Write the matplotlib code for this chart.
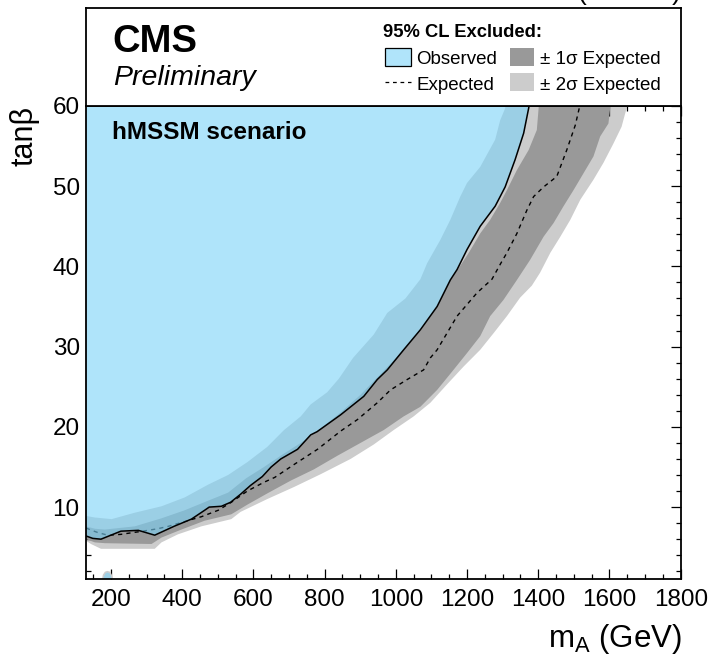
import matplotlib
matplotlib.use("Agg")
import matplotlib.pyplot as plt
from matplotlib.patches import Rectangle
from matplotlib.ticker import MultipleLocator

plt.rcParams['font.family'] = ['Liberation Sans', 'DejaVu Sans']
plt.rcParams['mathtext.fontset'] = 'custom'
plt.rcParams['mathtext.rm'] = 'Liberation Sans'
plt.rcParams['mathtext.it'] = 'Liberation Sans:italic'

# ---------------- data (mA in GeV, tan beta) ----------------
obs_mA = [130, 149, 172, 200, 228, 277, 323, 377, 426, 463, 476, 510, 536, 564, 592, 625,
          650, 677, 724, 761, 779, 845, 910, 948, 976, 1022, 1069, 1116, 1153, 1172, 1200,
          1237, 1279, 1307, 1335, 1359, 1373, 1378]
obs_tb = [6.4, 6.1, 6.0, 6.5, 7.0, 7.1, 6.5, 7.6, 8.5, 9.6, 10.0, 10.1, 10.6, 11.6, 12.7, 13.8,
          15.0, 16.0, 17.2, 19.0, 19.4, 21.5, 23.8, 25.9, 27.1, 29.6, 32.1, 35.0, 38.3, 39.6, 42.1,
          45.0, 47.5, 49.9, 53.3, 56.6, 59.7, 61.0]

exp_mA = [130, 146, 165, 191, 228, 258, 290, 331, 361, 407, 454, 501, 538, 583, 630, 660, 714,
          780, 846, 892, 948, 985, 1032, 1078, 1097, 1116, 1144, 1172, 1228, 1270, 1295, 1312,
          1340, 1368, 1387, 1415, 1452, 1480, 1504, 1515, 1520]
exp_tb = [7.4, 7.1, 6.8, 6.5, 6.6, 6.8, 7.0, 7.3, 7.6, 8.2, 8.8, 9.6, 10.6, 12.0, 13.1, 13.7, 15.3,
          17.2, 19.5, 20.9, 23.0, 24.6, 25.9, 27.1, 28.6, 29.6, 31.7, 33.8, 36.7, 38.4, 40.4, 41.7,
          44.1, 47.0, 48.7, 49.9, 51.2, 54.5, 57.6, 59.7, 61.0]

# -1 sigma (upper/left) and +1 sigma (lower/right) boundaries
s1in_mA = [130, 155, 183, 267, 342, 407, 473, 529, 580, 630, 680, 733, 789, 845, 901, 966, 1022,
           1070, 1116, 1153, 1205, 1237, 1265, 1293, 1312, 1340, 1373, 1396, 1401, 1403]
s1in_tb = [7.6, 7.3, 7.2, 7.6, 8.6, 9.6, 10.8, 11.8, 13.6, 15.0, 16.5, 18.0, 19.8, 21.8, 24.0, 27.0,
           29.6, 32.0, 35.0, 38.2, 41.7, 44.1, 45.8, 47.9, 49.5, 52.0, 54.5, 57.0, 59.7, 61.0]
s1out_mA = [130, 155, 183, 314, 342, 398, 463, 538, 583, 639, 705, 770, 836, 901, 966, 1022, 1069,
            1116, 1162, 1200, 1237, 1265, 1302, 1340, 1377, 1415, 1443, 1471, 1499, 1527, 1555,
            1574, 1597, 1602, 1604]
s1out_tb = [6.0, 5.6, 5.5, 5.4, 6.2, 7.2, 8.3, 9.1, 10.3, 11.7, 13.3, 14.7, 16.4, 18.0, 19.6, 21.3,
            22.5, 24.6, 27.1, 29.2, 31.3, 33.8, 35.8, 38.3, 40.8, 43.7, 45.4, 47.5, 49.5, 51.6,
            53.7, 56.2, 57.8, 59.7, 61.0]

# -2 sigma (upper/left) and +2 sigma (lower/right) boundaries
s2in_mA = [130, 155, 202, 267, 342, 407, 473, 529, 583, 639, 686, 733, 761, 807, 840, 880, 938,
           976, 1027, 1069, 1088, 1125, 1153, 1181, 1200, 1237, 1279, 1293, 1307, 1310]
s2in_tb = [8.9, 8.7, 8.5, 9.3, 10.1, 11.2, 12.8, 14.0, 15.6, 17.5, 19.6, 21.3, 22.8, 24.3, 26.0,
           28.6, 31.5, 34.2, 36.0, 38.4, 40.4, 43.3, 45.8, 48.7, 50.4, 52.4, 55.8, 58.2, 59.7, 61.0]
s2out_mA = [130, 144, 172, 284, 323, 342, 388, 454, 538, 564, 639, 714, 789, 873, 938, 994, 1050,
            1097, 1144, 1190, 1237, 1275, 1312, 1349, 1382, 1405, 1434, 1462, 1490, 1518, 1555,
            1583, 1611, 1634, 1648, 1650]
s2out_tb = [5.8, 5.4, 4.8, 4.8, 4.8, 5.6, 6.6, 7.6, 8.5, 9.4, 11.0, 12.5, 14.1, 16.0, 17.8, 19.6,
            21.3, 23.0, 25.3, 27.5, 29.6, 31.7, 33.8, 36.1, 37.6, 39.2, 41.7, 43.7, 45.8, 48.3,
            50.8, 52.9, 55.3, 57.4, 59.7, 61.0]

# small observed island at low tan beta
isl_mA = [179, 181, 185, 190, 196, 200, 202]
isl_tb = [1.0, 1.4, 1.75, 1.85, 1.75, 1.4, 1.0]
halo_mA = [175, 177, 183, 190, 198, 203, 206]
halo_tb = [1.0, 1.55, 1.95, 2.05, 1.95, 1.55, 1.0]

x_ticks = [200, 400, 600, 800, 1000, 1200, 1400, 1600, 1800]
y_ticks = [10, 20, 30, 40, 50, 60]

# ---------------- figure ----------------
W, H = 713, 658
fig = plt.figure(figsize=(W / 100, H / 100), dpi=100)
L, R, T, B, TOP = 86, 680.7, 105.9, 579.3, 8.3
ax = fig.add_axes([L / W, 1 - B / H, (R - L) / W, (B - T) / H])
lax = fig.add_axes([L / W, 1 - T / H, (R - L) / W, (T - TOP) / H])

LGREY = '#cccccc'
DGREY = '#999999'
BLUE = '#7bd2f7'
BLUE_ALPHA = 0.6


def fill_left(m, t, color, **kw):
    xs = [0] + list(m) + [m[-1], 0]
    ys = [t[0]] + list(t) + [80, 80]
    ax.fill(xs, ys, color=color, lw=0, **kw)


fill_left(s2out_mA, s2out_tb, LGREY, zorder=1)
fill_left(s1out_mA, s1out_tb, DGREY, zorder=2)
fill_left(s1in_mA, s1in_tb, LGREY, zorder=3)
fill_left(s2in_mA, s2in_tb, 'white', zorder=4)
ax.fill(halo_mA, halo_tb, color=LGREY, lw=0, zorder=4.5)

ax.plot(exp_mA, exp_tb, color='black', lw=1.0, ls=(0, (3, 3)), zorder=5)

fill_left(obs_mA, obs_tb, BLUE, alpha=BLUE_ALPHA, zorder=6)
ax.fill(isl_mA, isl_tb, color=BLUE, alpha=BLUE_ALPHA, lw=0, zorder=6)
ax.plot(obs_mA, obs_tb, color='black', lw=1.1, zorder=7)

ax.set_xlim(130, 1800)
ax.set_ylim(1, 60)
ax.set_xticks(x_ticks)
ax.set_xticklabels([str(v) for v in x_ticks])
ax.set_yticks(y_ticks)
ax.set_yticklabels([str(v) for v in y_ticks])
ax.xaxis.set_minor_locator(MultipleLocator(50))
ax.yaxis.set_minor_locator(MultipleLocator(2))
ax.tick_params(which='both', direction='in', top=True, right=True, width=0.9,
               labelsize=17.5, zorder=10)
ax.tick_params(which='major', length=7.5)
ax.tick_params(which='minor', length=3.8)
ax.tick_params(axis='y', pad=4.5)
ax.tick_params(axis='x', pad=7)
for s in ax.spines.values():
    s.set_linewidth(1.3)
    s.set_zorder(11)

# legend / header box
lax.set_xlim(L, R)
lax.set_ylim(T, TOP)
lax.set_xticks([])
lax.set_yticks([])
for s in lax.spines.values():
    s.set_linewidth(1.3)

lax.text(112, 51.7, 'CMS', fontsize=27.5, fontweight='bold', va='baseline', ha='left')
lax.text(113, 85, 'Preliminary', fontsize=20.5, style='italic', va='baseline', ha='left')
lax.text(383, 37, '95% CL Excluded:', fontsize=13.2, fontweight='bold', va='baseline', ha='left')
lax.add_patch(Rectangle((385, 47.7), 25.5, 18.3, facecolor='#b0e4fa', edgecolor='black', lw=0.9))
lax.text(416, 64, 'Observed', fontsize=13.5, va='baseline', ha='left')
lax.add_patch(Rectangle((510, 48), 23.5, 18, facecolor=DGREY, edgecolor='none'))
lax.text(540, 64, '± 1σ Expected', fontsize=13.5, va='baseline', ha='left')
lax.plot([385, 411], [81.7, 81.7], color='black', lw=0.9, ls=(0, (3, 3)))
lax.text(416, 90, 'Expected', fontsize=13.5, va='baseline', ha='left')
lax.add_patch(Rectangle((510, 73.3), 23.5, 17.7, facecolor=LGREY, edgecolor='none'))
lax.text(540, 90, '± 2σ Expected', fontsize=13.5, va='baseline', ha='left')

fig.text(112 / W, 1 - 139.3 / H, 'hMSSM scenario', fontsize=17.5, fontweight='bold',
         va='baseline', ha='left', zorder=20)

# axis titles
fig.text(24 / W, 1 - 106 / H, 'tanβ', fontsize=22, rotation=90, ha='center', va='top')
fig.text(681.7 / W, 1 - 647 / H, r'm$_{\mathrm{A}}$ (GeV)', fontsize=22.5, ha='right', va='baseline')
fig.text(681 / W, 1 - 2 / H, r'35.9 fb$^{-1}$ (13 TeV)', fontsize=19, ha='right', va='baseline')

fig.savefig('out.png', dpi=100)
